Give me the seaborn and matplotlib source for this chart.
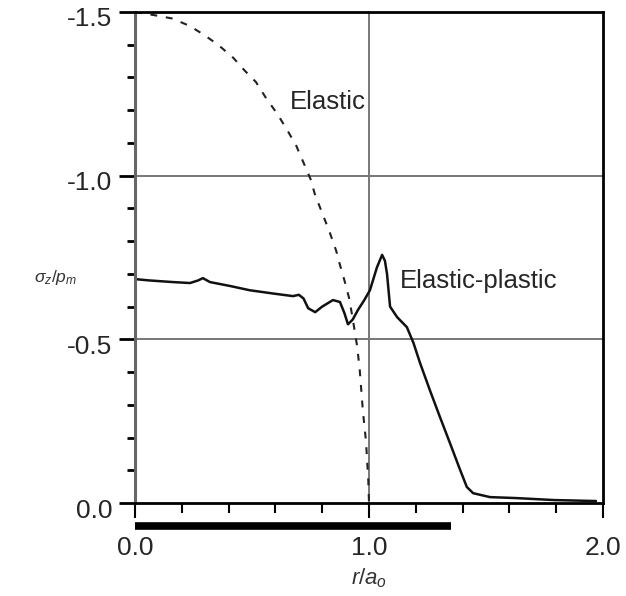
import matplotlib
matplotlib.use("Agg")
import matplotlib.pyplot as plt
import matplotlib.transforms as mtransforms
from matplotlib.ticker import MultipleLocator, FixedLocator
import seaborn as sns
import pandas as pd

# Normalised radius r/a0 and normal stress sigma_z/p_m
elastic_r = [0.0, 0.085, 0.16, 0.235, 0.295, 0.355, 0.42, 0.47, 0.517, 0.56,
             0.607, 0.65, 0.69, 0.72, 0.75, 0.77, 0.80, 0.833, 0.86, 0.876,
             0.897, 0.915, 0.93, 0.949, 0.96, 0.974, 0.987, 0.997, 1.0]
elastic_s = [-1.5, -1.49, -1.48, -1.457, -1.43, -1.40, -1.36, -1.32, -1.286, -1.237,
             -1.19, -1.14, -1.09, -1.04, -0.99, -0.94, -0.886, -0.825, -0.77, -0.727,
             -0.675, -0.626, -0.565, -0.48, -0.41, -0.28, -0.19, -0.07, 0.0]

plastic_r = [0.0, 0.06, 0.16, 0.235, 0.27, 0.29, 0.32, 0.406, 0.49, 0.59,
             0.675, 0.70, 0.72, 0.74, 0.77, 0.80, 0.846, 0.876, 0.895, 0.91,
             0.93, 0.953, 0.98, 1.004, 1.034, 1.056, 1.068, 1.077, 1.09, 1.12,
             1.162, 1.19, 1.218, 1.26, 1.303, 1.346, 1.39, 1.418, 1.445, 1.517,
             1.63, 1.79, 1.97]
plastic_s = [-0.684, -0.68, -0.675, -0.672, -0.68, -0.687, -0.675, -0.663, -0.65, -0.64,
             -0.632, -0.636, -0.625, -0.595, -0.583, -0.60, -0.62, -0.614, -0.58, -0.546,
             -0.56, -0.59, -0.62, -0.65, -0.72, -0.758, -0.74, -0.70, -0.60, -0.568,
             -0.537, -0.489, -0.428, -0.345, -0.263, -0.183, -0.10, -0.049, -0.03, -0.018,
             -0.015, -0.009, -0.006]

# Extent of the contact zone marked under the axis
contact_extent = 1.35

x_ticklabels = ["0.0", "1.0", "2.0"]
y_ticks = [-1.5, -1.0, -0.5, 0.0]
y_ticklabels = ["-1.5", "-1.0", "-0.5", "0.0"]

sns.set_style("ticks")
plt.rcParams["font.family"] = ["Liberation Sans", "DejaVu Sans"]
plt.rcParams["mathtext.fontset"] = "custom"
plt.rcParams["mathtext.rm"] = "Liberation Sans"
plt.rcParams["mathtext.it"] = "Liberation Sans:italic"

fig = plt.figure(figsize=(6.26, 5.96), dpi=100)
ax = fig.add_axes([135 / 626, 93 / 596, 468 / 626, 491 / 596])

df_el = pd.DataFrame({"r": elastic_r, "s": elastic_s})
df_pl = pd.DataFrame({"r": plastic_r, "s": plastic_s})

sns.lineplot(data=df_el, x="r", y="s", ax=ax, sort=False, estimator=None,
             color="#222222", lw=1.5, linestyle=(0, (3.3, 4.2)))
sns.lineplot(data=df_pl, x="r", y="s", ax=ax, sort=False, estimator=None,
             color="#111111", lw=1.8)

ax.set_xlim(0, 2.0)
ax.set_ylim(0, -1.5)

ax.xaxis.set_major_locator(FixedLocator([0.0, 1.0, 2.0]))
ax.xaxis.set_minor_locator(MultipleLocator(0.2))
ax.set_xticklabels(x_ticklabels)
ax.yaxis.set_major_locator(FixedLocator(y_ticks))
ax.yaxis.set_minor_locator(MultipleLocator(0.1))
ax.set_yticklabels(y_ticklabels)

ax.tick_params(axis="x", which="major", direction="out", length=11, width=1.5,
               pad=13, labelsize=19, color="black")
ax.tick_params(axis="x", which="minor", direction="out", length=7, width=1.5,
               color="black")
ax.tick_params(axis="y", which="major", direction="out", length=11.5, width=2,
               pad=5, labelsize=19, color="black")
ax.tick_params(axis="y", which="minor", direction="out", length=5.5, width=2,
               color="black")

# shift the y tick labels slightly below their ticks
offset = mtransforms.ScaledTranslation(0, -5 / 100, fig.dpi_scale_trans)
for lbl in ax.get_yticklabels():
    lbl.set_transform(lbl.get_transform() + offset)

for v in [-1.0, -0.5]:
    ax.axhline(v, color="#777777", lw=1.4, zorder=0)
ax.axvline(1.0, color="#777777", lw=1.4, zorder=0)

for side in ["top", "right", "bottom"]:
    ax.spines[side].set_color("black")
    ax.spines[side].set_linewidth(2)
ax.spines["left"].set_color("#666666")
ax.spines["left"].set_linewidth(2.2)

# contact zone bar below the axis
trans = mtransforms.blended_transform_factory(ax.transData, ax.transAxes)
ax.plot([0, contact_extent], [-0.047, -0.047], transform=trans, color="black",
        lw=5.5, solid_capstyle="butt", clip_on=False)

ax.text(0.662, -1.225, "Elastic", fontsize=18.5, va="center", ha="left")
ax.text(1.132, -0.678, "Elastic-plastic", fontsize=18.5, va="center", ha="left")

ax.set_xlabel(r"$r/a_o$", fontsize=16, color="#333333")
ax.xaxis.set_label_coords(0.5, -0.13)
ax.set_ylabel(r"$\sigma_z/p_m$", fontsize=12.5, rotation=0, color="#333333")
ax.yaxis.set_label_coords(-0.169, 0.44)

fig.savefig("out.png", dpi=100)
